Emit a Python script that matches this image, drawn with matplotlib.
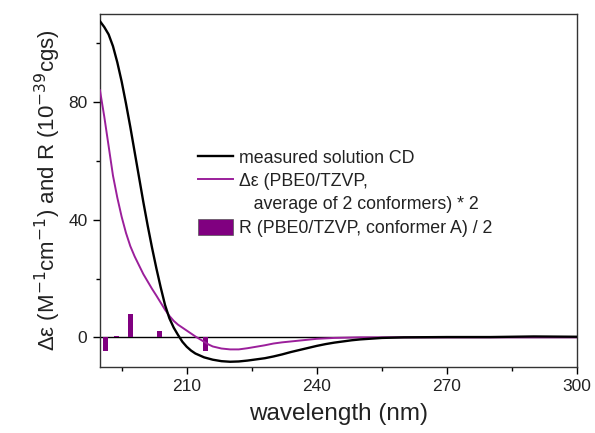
import numpy as np
import matplotlib.pyplot as plt
from matplotlib.lines import Line2D
from matplotlib.patches import Patch

plt.rcParams['font.family'] = ['Liberation Sans', 'DejaVu Sans']

# measured solution CD
wl_meas = [190, 191, 192, 193, 194, 195, 196, 197, 198, 199, 200, 201, 202, 203,
           204, 205, 206, 207, 208, 209, 210, 211, 212, 214, 216, 218, 220, 222,
           224, 226, 228, 230, 232, 234, 236, 238, 240, 242, 244, 246, 248, 250,
           252, 255, 260, 270, 280, 290, 300]
cd_meas = [107.5, 105.5, 103, 99, 93.5, 87, 79.5, 71.5, 63, 54.5, 46, 38, 30.5, 23.5,
           17, 11, 6.5, 3.3, 0.8, -1.5, -3.2, -4.5, -5.5, -6.8, -7.6, -8.1, -8.3, -8.2,
           -7.9, -7.5, -7.1, -6.5, -5.8, -5.0, -4.3, -3.6, -2.9, -2.3, -1.8, -1.4, -1.0, -0.7,
           -0.5, -0.2, 0.0, 0.1, 0.1, 0.3, 0.2]

# calculated, average of 2 conformers * 2
wl_calc = [190, 191, 192, 193, 194, 195, 196, 197, 198, 199, 200, 201, 202, 203,
           204, 205, 206, 207, 208, 209, 210, 211, 212, 213, 214, 215, 216, 218,
           220, 222, 224, 226, 228, 230, 232, 234, 236, 238, 240, 244, 250, 300]
de_calc = [84, 75, 65, 55, 47.5, 41, 35.5, 31, 27.5, 24.5, 21.5, 19, 16.5, 14.2,
           11.8, 9.4, 7.3, 5.6, 4.3, 3.3, 2.3, 1.3, 0.3, -0.6, -1.5, -2.4, -3.1, -3.8,
           -4.1, -4.1, -3.7, -3.2, -2.7, -2.1, -1.7, -1.4, -1.1, -0.8, -0.5, -0.2, 0.0, 0.0]

# rotatory strengths, conformer A / 2
wl_R = [191.2, 193.9, 197.1, 203.8, 207.6, 214.4, 291, 298]
R_val = [-4.5, 0.3, 8.0, 2.1, 0.2, -4.5, 0.4, 0.3]

purple = '#9b1f9b'
bar_purple = '#800080'

fig = plt.figure(figsize=(5.95, 4.33), dpi=100)
ax = fig.add_axes([0.168, 0.153, 0.802, 0.815])

ax.axhline(0, color='black', lw=1.0, zorder=1)
ax.bar(wl_R, R_val, width=1.1, color=bar_purple, zorder=2)
ax.plot(wl_calc, de_calc, color=purple, lw=1.4, zorder=3)
ax.plot(wl_meas, cd_meas, color='black', lw=1.7, zorder=4)

ax.set_xlim(190, 300)
ax.set_ylim(-10, 110)
ax.set_xticks([210, 240, 270, 300])
ax.set_xticks([195, 225, 255, 285], minor=True)
ax.set_yticks([0, 40, 80])
ax.set_yticks([20, 60, 100], minor=True)
ax.tick_params(which='major', direction='out', length=5, width=1, labelsize=12.5,
               labelcolor='#222222', pad=4)
ax.tick_params(which='minor', direction='out', length=3, width=1)
for s in ax.spines.values():
    s.set_linewidth(1.0)
    s.set_color('#333333')

ax.set_xlabel('wavelength (nm)', fontsize=17.5, color='#222222', labelpad=6)
ax.set_ylabel('Δε (M$^{-1}$cm$^{-1}$) and R (10$^{-39}$cgs)', fontsize=16,
              color='#222222', labelpad=4)

handles = [Line2D([], [], color='black', lw=1.7),
           Line2D([], [], color=purple, lw=1.4),
           Line2D([], [], color='none'),
           Patch(facecolor=bar_purple, edgecolor='#555555', lw=0.5)]
labels = ['measured solution CD',
          'Δε (PBE0/TZVP,',
          '   average of 2 conformers) * 2',
          'R (PBE0/TZVP, conformer A) / 2']
ax.legend(handles, labels, loc='upper left', bbox_to_anchor=(0.205, 0.618),
          frameon=False, fontsize=12.8, handlelength=2.0, handleheight=1.0,
          handletextpad=0.3, labelspacing=0.3, borderpad=0, borderaxespad=0,
          labelcolor='#222222')

fig.savefig('out.png', dpi=100)
